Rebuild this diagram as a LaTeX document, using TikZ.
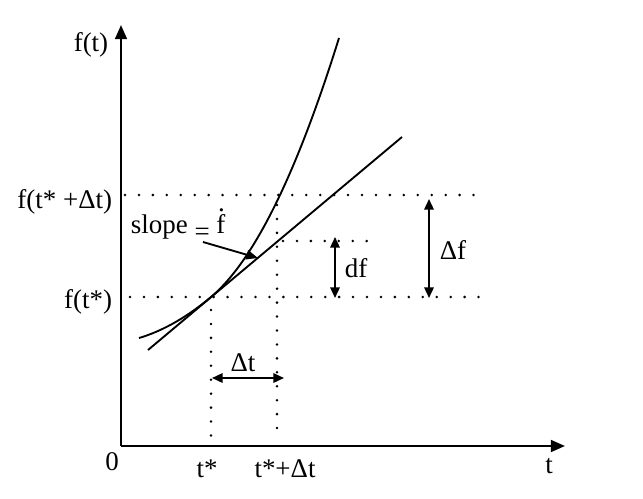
\documentclass[tikz,border=0pt]{standalone}
\usepackage{fontspec}
\setmainfont{Liberation Serif}
\usetikzlibrary{arrows.meta}

\newcommand{\fdot}{\makebox[0pt][l]{\hspace{0.06em}\raisebox{0.8em}{.}}f}

\begin{document}
\begin{tikzpicture}[x=0.03cm, y=-0.03cm, line width=1.6pt,
        lbl/.style={font=\fontsize{23}{27}\selectfont, inner sep=0pt},
        dots/.style={line width=2.4pt, line cap=round, dash pattern=on 0pt off 11.9pt},
        axis/.style={line width=2pt, -{Triangle[length=12pt, width=10pt]}},
        twoway/.style={{Triangle[length=9pt, width=8pt]}-{Triangle[length=9pt, width=8pt]}}]
        \useasboundingbox (0,0) rectangle (643,498);

        % key points
        \coordinate (O) at (121,446);
        \coordinate (P) at (211,297);   % t*, f(t*)
        \coordinate (Q) at (277,195);   % t*+dt, f(t*+dt)
        \coordinate (R) at (277,241);   % t*+dt on the tangent

        % axes
        \draw[axis] (O) -- (121,25) coordinate (ytip);
        \draw[axis] (O) -- (565,446) coordinate (xtip);

        % dotted guides
        \draw[dots] (125,195) -- (487,195);
        \draw[dots] (130,297) -- (480,297);
        \draw[dots] (283,241) -- (370,241);
        \draw[dots] (211,310) -- (211,440);
        \draw[dots] (277,205) -- (277,440);

        % function (two parabola pieces meeting at P) and tangent
        \draw plot[domain=-72:0, samples=30] ({211+\x}, {297-0.84*\x-0.00376*\x*\x})
              -- plot[domain=0:128, samples=50] ({211+\x}, {297-0.84*\x-0.00924*\x*\x});
        \draw (148,350) -- (402,137);

        % increments
        \draw[twoway] (212,378) -- (284,378);
        \draw[twoway] (335,237) -- (335,298);
        \draw[twoway] (429,199) -- (429,298);
        \draw[-{Triangle[length=10pt, width=8pt]}] (203,242) -- (258,258);

        % labels
        \node[lbl] (ft) at (91,45) {f(t)};
        \node[lbl, anchor=east] (fq) at (113,202) {f(t* +Δt)};
        \node[lbl, anchor=east] (fp) at (113,302) {f(t*)};
        \node[lbl] (zero) at (112,462) {0};
        \node[lbl] (tp) at (207,469) {t*};
        \node[lbl] (tq) at (285,469) {t*+Δt};
        \node[lbl] (t) at (549,466) {t};
        \node[lbl] (dt) at (243,363) {Δt};
        \node[lbl] (df) at (356,268) {df};
        \node[lbl] (Df) at (453,250) {Δf};
        \node[lbl, anchor=base west] (slope) at (130,233) {slope \raisebox{-6pt}{=} \fdot};
\end{tikzpicture}
\end{document}
